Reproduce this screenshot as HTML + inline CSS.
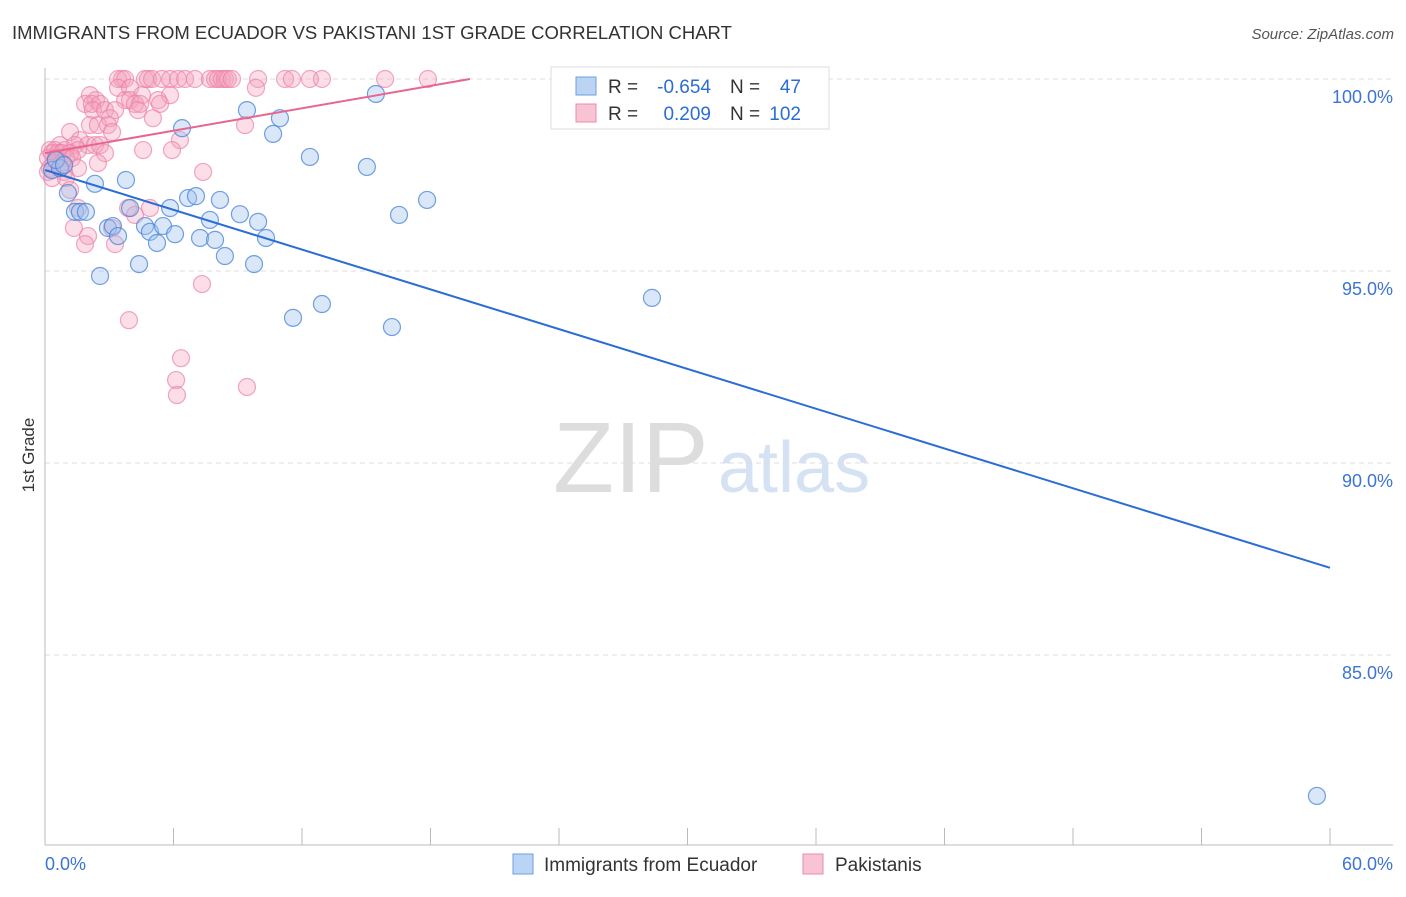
<!DOCTYPE html>
<html><head><meta charset="utf-8"><style>
body{margin:0;background:#fff;font-family:"Liberation Sans",sans-serif;}
svg text{font-family:"Liberation Sans",sans-serif;}
</style></head><body>
<svg id="c" width="1406" height="892">
<text x="12" y="39" font-size="18.5" fill="#333">IMMIGRANTS FROM ECUADOR VS PAKISTANI 1ST GRADE CORRELATION CHART</text>
<text x="1394" y="39" font-size="15" fill="#555" font-style="italic" text-anchor="end">Source: ZipAtlas.com</text>
<text x="34" y="455" font-size="17" fill="#333" transform="rotate(-90 34 455)" text-anchor="middle">1st Grade</text>
<text x="553" y="492" font-size="100" fill="#ddd" font-family="Liberation Serif">ZIP</text>
<text x="718" y="492" font-size="72" fill="#d4e2f3">atlas</text>
<g id="grid"></g><g id="pts"></g><g id="lines"></g>
<g>
<rect x="551" y="67" width="278" height="62" fill="#fff" stroke="#ddd"/>
<rect x="576" y="77" width="20" height="18" fill="#bcd4f3" stroke="#6a9fe0"/>
<rect x="576" y="104" width="20" height="18" fill="#f8c4d4" stroke="#ec8aab"/>
<text x="608" y="93" font-size="19" fill="#333">R =</text>
<text x="711" y="93" font-size="19" fill="#2a6dd4" text-anchor="end">-0.654</text>
<text x="730" y="93" font-size="19" fill="#333">N =</text>
<text x="801" y="93" font-size="19" fill="#2a6dd4" text-anchor="end">47</text>
<text x="608" y="120" font-size="19" fill="#333">R =</text>
<text x="711" y="120" font-size="19" fill="#2a6dd4" text-anchor="end">0.209</text>
<text x="730" y="120" font-size="19" fill="#333">N =</text>
<text x="801" y="120" font-size="19" fill="#2a6dd4" text-anchor="end">102</text>
</g>
<g>
<rect x="513" y="854" width="20" height="20" fill="#bcd4f3" stroke="#6a9fe0"/>
<text x="544" y="871" font-size="19" fill="#333">Immigrants from Ecuador</text>
<rect x="803" y="854" width="20" height="20" fill="#f8c4d4" stroke="#ec8aab"/>
<text x="835" y="871" font-size="19" fill="#333">Pakistanis</text>
</g>
</svg>
<script>
const yTicks=[100,95,90,85];
const xTickLabels=["0.0%","60.0%"];
const blueX=[0.33,0.70,1.07,1.40,1.63,1.91,2.33,2.57,2.94,3.17,3.41,3.78,3.97,4.39,4.67,4.90,5.23,5.51,5.84,6.07,6.40,6.68,7.05,7.24,7.70,7.94,8.17,8.40,9.10,9.43,9.76,9.95,10.32,10.65,10.97,11.58,12.37,12.93,15.03,15.45,16.20,16.53,17.84,28.34,59.39,0.51,0.89];
const blueY=[97.63,97.68,97.03,96.54,96.54,96.54,97.27,94.87,96.12,96.17,95.91,97.37,96.64,95.18,96.17,96.02,95.73,96.17,96.64,95.96,98.72,96.90,96.95,95.86,96.33,95.81,96.85,95.39,96.48,99.19,95.18,96.28,95.86,98.57,98.98,93.78,97.97,94.14,97.71,99.61,93.54,96.46,96.85,94.30,81.33,97.89,97.76];
const pinkX=[3.41,3.60,3.74,4.67,4.81,5.00,5.46,5.84,6.21,6.54,7.00,7.70,7.94,8.08,8.26,8.40,8.54,8.73,9.95,11.21,11.53,12.37,12.93,15.88,17.88,
3.41,3.97,9.85, 2.10,5.84,4.53, 2.38,3.74,3.97,5.28, 1.87,2.19,2.57,4.20,4.44,5.37, 2.24,2.80,3.27,4.34, 3.03,5.04, 2.10,2.47,2.94,9.34, 1.17,3.13, 6.30,1.63,
0.70,1.40,2.01,2.33,2.57, 0.23,0.47,0.93,1.54,4.58,5.93, 0.33,0.61,0.79,1.17,2.80, 0.14,0.51,0.98,1.26, 0.42,0.79,2.47, 0.23,0.70,1.54, 0.14,0.89,7.38, 0.33,0.98, 1.17, 1.54,3.88,4.90, 4.20, 1.35,3.13, 2.01, 1.87,3.27, 7.33, 3.92, 6.35, 6.12, 9.43, 6.16];
const pinkY=[100,100,100,100,100,100,100,100,100,100,100,100,100,100,100,100,100,100,100,100,100,100,100,100,100,
99.77,99.77,99.77, 99.58,99.58,99.58, 99.45,99.45,99.45,99.45, 99.35,99.35,99.35,99.35,99.35,99.35, 99.19,99.19,99.19,99.19, 98.98,98.98, 98.80,98.80,98.80,98.80, 98.62,98.62, 98.41,98.41,
98.28,98.28,98.28,98.28,98.28, 98.15,98.15,98.15,98.15,98.15,98.15, 98.07,98.07,98.07,98.07,98.07, 97.94,97.94,97.94,97.94, 97.81,97.81,97.81, 97.68,97.68,97.68, 97.58,97.58,97.58, 97.42,97.42, 97.11, 96.64,96.64,96.64, 96.46, 96.12,96.12, 95.91, 95.70,95.70, 94.66, 93.72, 92.73, 92.16, 91.98, 91.77];
const blueFit=[97.63,87.27];
const pinkFit=[98.07,100,19.84];
const X0=45,X1=1330,Ytop=79,pxPer5=192;
const sx=v=>X0+(v/60)*(X1-X0);
const sy=v=>Ytop+(100-v)/5*pxPer5;
const NS="http://www.w3.org/2000/svg";
function mk(t,a,p){const e=document.createElementNS(NS,t);for(const k in a)e.setAttribute(k,a[k]);p.appendChild(e);return e;}
const g=document.getElementById('grid');
yTicks.forEach(t=>{
 const l=mk('line',{x1:X0,x2:1393,y1:sy(t),y2:sy(t),stroke:'#ddd','stroke-dasharray':'5,4'},g);
 
 
 const tx=mk('text',{x:1393,y:sy(t)+24,'font-size':18,fill:'#3b74d4','text-anchor':'end'},g);
 tx.textContent=t.toFixed(1)+'%';
 
 
});
mk('line',{x1:X0,x2:X0,y1:68,y2:845,stroke:'#bbb'},g);
mk('line',{x1:X0,x2:1393,y1:845,y2:845,stroke:'#bbb'},g);
for(let i=0;i<=10;i++){const x=sx(i*6);const l=mk('line',{x1:x,x2:x,y1:828,y2:845,stroke:'#bbb'},g);
 
 }
[[0,'start',45],[60,'end',1393]].forEach((d,i)=>{const t=mk('text',{x:d[2],y:870,'font-size':18,fill:'#3b74d4','text-anchor':d[1]},g);t.textContent=xTickLabels[i];
 
 });
const P=document.getElementById('pts');
pinkX.forEach((x,i)=>{const c=mk('circle',{cx:sx(x),cy:sy(pinkY[i]),r:8.5,fill:'rgba(244,160,188,0.35)',stroke:'rgba(236,130,165,0.7)','stroke-width':1.2},P);
 
 });
blueX.forEach((x,i)=>{const c=mk('circle',{cx:sx(x),cy:sy(blueY[i]),r:8.5,fill:'rgba(160,196,240,0.4)',stroke:'rgba(70,130,215,0.75)','stroke-width':1.2},P);
 
 });
const L=document.getElementById('lines');
const bl=mk('line',{x1:sx(0),y1:sy(blueFit[0]),x2:sx(60),y2:sy(blueFit[1]),stroke:'#2a6dd4','stroke-width':2},L);


const pl=mk('line',{x1:sx(0),y1:sy(pinkFit[0]),x2:sx(pinkFit[2]),y2:sy(pinkFit[1]),stroke:'#e8658f','stroke-width':2},L);


</script>
</body></html>
